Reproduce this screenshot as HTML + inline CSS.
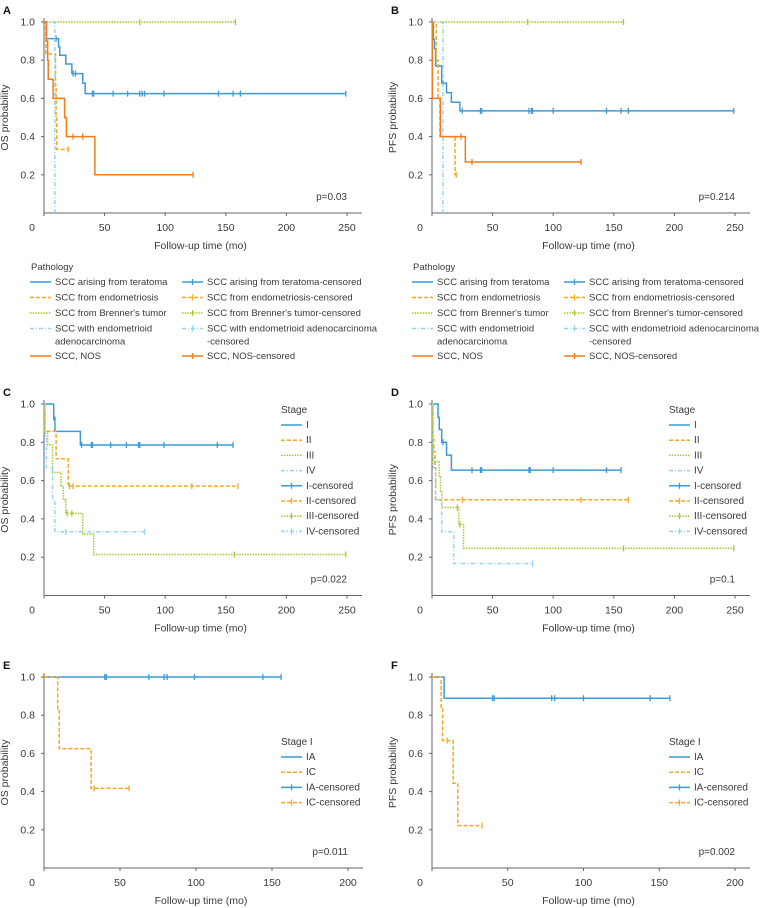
<!DOCTYPE html>
<html><head><meta charset="utf-8"><style>
html,body{margin:0;padding:0;background:#fff;}
svg{display:block;font-family:"Liberation Sans",sans-serif;}
</style></head><body>
<svg id="fig" width="764" height="908" viewBox="0 0 764 908" xmlns="http://www.w3.org/2000/svg"></svg>
<script>
// ---- Panel A (OS by pathology) ----
const aTerT=[2,12,13,18,23,32,34], aTerS=[0.913,0.87,0.826,0.78,0.73,0.68,0.625], aTerC=[10,24,26,40,41,57,69,79,81,83,99,144,156,162,249];
const aEndT=[1.5,9.5,10,10.5], aEndS=[0.833,0.667,0.5,0.333], aEndC=[20];
const aBreT=[], aBreS=[], aBreC=[79,158];
const aAdeT=[9], aAdeS=[0], aAdeC=[];
const aNosT=[2,3,3.5,7.5,17,18.5,42], aNosS=[0.9,0.8,0.7,0.6,0.5,0.4,0.2], aNosC=[24,32,123];
// ---- Panel B (PFS by pathology) ----
const bTerT=[1,2,3,8,12,16,23], bTerS=[0.91,0.86,0.77,0.68,0.63,0.58,0.535], bTerC=[9,25,40,41,80,82,83,100,144,156,162,249];
const bEndT=[3.5,5,6.5,19], bEndS=[0.8,0.6,0.4,0.2], bEndC=[20];
const bBreT=[], bBreS=[], bBreC=[79,158];
const bAdeT=[9], bAdeS=[0], bAdeC=[];
const bNosT=[0.3,7,27.5], bNosS=[0.6,0.4,0.267], bNosC=[24,33,123];
// ---- Panel C (OS by stage) ----
const cIT=[8,9,30], cIS=[0.93,0.857,0.786], cIC=[8,31,39,40,55,68,78,79,99,143,156];
const cIIT=[0.5,10,20], cIIS=[0.857,0.714,0.571], cIIC=[21,24,122,160];
const cIIIT=[0.5,3,7,14,16,18,32,41], cIIIS=[0.857,0.786,0.643,0.571,0.5,0.429,0.321,0.214], cIIIC=[19,23,157,249];
const cIVT=[1,2,7,9], cIVS=[0.833,0.667,0.5,0.333], cIVC=[18,83];
// ---- Panel D (PFS by stage) ----
const dIT=[5,6,8,12,16], dIS=[0.93,0.867,0.8,0.733,0.655], dIC=[9,33,40,41,80,81,100,144,156];
const dIIT=[0.5,1.5,2.5,3], dIIS=[0.833,0.75,0.667,0.5], dIIC=[25,123,162];
const dIIIT=[0.5,6,7,8,22,26], dIIIS=[0.7,0.62,0.54,0.46,0.37,0.246], dIIIC=[21,23,158,249];
const dIVT=[1,3,8,18], dIVS=[0.667,0.5,0.333,0.167], dIVC=[83];
// ---- Panel E (OS stage I) ----
const eIAT=[], eIAS=[], eIAC=[40,41,69,79,81,99,144,156];
const eICT=[9,10,31], eICS=[0.833,0.625,0.417], eICC=[33,56];
// ---- Panel F (PFS stage I) ----
const fIAT=[8], fIAS=[0.889], fIAC=[40,41,79,81,100,144,157];
const fICT=[6,7,14,17], fICS=[0.833,0.667,0.444,0.222], fICC=[10,33];
const xTicks250=[0,50,100,150,200,250], xTicks200=[0,50,100,150,200], yTicks=[0.2,0.4,0.6,0.8,1.0];

const NS="http://www.w3.org/2000/svg", svg=document.getElementById('fig');
const COL={blue:"#3d9ad6",gold:"#f6a822",green:"#a3c92f",lblue:"#94d3f2",orange:"#f07d19"};
const DASH={solid:"",dash:"4,2",dot:"1.5,1.2",dashdot:"4,2,1,2"};
function el(tag,attrs,parent){const e=document.createElementNS(NS,tag);for(const k in attrs)e.setAttribute(k,attrs[k]);(parent||svg).appendChild(e);return e;}
function txt(s,x,y,attrs,parent){const t=el('text',Object.assign({x:x,y:y,'font-size':10.5,fill:'#3a3a3a'},attrs),parent);t.textContent=s;return t;}

function panel(p){
  const g=el('g',{});
  
  
  const sx=v=>p.x0+v*(p.x1-p.x0)/p.xmax, sy=v=>p.y0-v*(p.y0-p.y1);
  const lt=txt(p.letter,p.x0-41,p.y1-8,{'font-size':11,'font-weight':'bold',fill:'#111'},g);
  
  const ax=el('g',{},g);
  
  el('line',{x1:p.x0,y1:p.y1-4,x2:p.x0,y2:p.y0,stroke:'#666','stroke-width':1},ax);
  el('line',{x1:p.x0,y1:p.y0,x2:p.x1+15,y2:p.y0,stroke:'#666','stroke-width':1},ax);
  p.xticks.forEach(v=>{el('line',{x1:sx(v),y1:p.y0,x2:sx(v),y2:p.y0+3,stroke:'#666'},ax);
    const t=txt(String(v),v===0?sx(v)-12:sx(v),p.y0+18,{'text-anchor':'middle'},ax);
    });
  yTicks.forEach(v=>{el('line',{x1:p.x0-3,y1:sy(v),x2:p.x0,y2:sy(v),stroke:'#666'},ax);
    const t=txt(v.toFixed(1),p.x0-9,sy(v)+3.5,{'text-anchor':'end'},ax);
    });
  const xt=txt('Follow-up time (mo)',(p.x0+p.x1)/2+5,p.y0+36,{'text-anchor':'middle'},g);
  
  const yc=(p.y0+p.y1)/2;
  const yt=txt(p.ylab,p.x0-36,yc,{'text-anchor':'middle',transform:`rotate(-90 ${p.x0-36} ${yc})`},g);
  
  const pv=txt(p.pval,p.x1,p.y0-13,{'text-anchor':'end','font-size':10},g);
  
  p.series.forEach(s=>{
    const sg=el('g',{},g);
    
    const T=s.t,S=s.s,C=s.c;
    const last=Math.max(C.length?Math.max(...C):0,T.length?T[T.length-1]:0);
    let d=`M${sx(0)},${sy(1)}`;
    for(let i=0;i<T.length;i++){d+=` H${sx(T[i])} V${sy(S[i])}`;}
    d+=` H${sx(last)}`;
    el('path',{d:d,fill:'none',stroke:COL[s.col],'stroke-width':1.5,'stroke-dasharray':DASH[s.dash]},sg);
    C.forEach(c=>{let v=1;for(let i=0;i<T.length;i++)if(T[i]<=c)v=S[i];
      const m=el('line',{x1:sx(c),y1:sy(v)-3,x2:sx(c),y2:sy(v)+3,stroke:COL[s.col],'stroke-width':1.3},sg);
      });
  });
  if(p.legend){const L=p.legend;const lg=el('g',{},g);
    
    txt(L.title,L.x,L.y,{'font-size':10},lg);
    L.items.forEach((it,i)=>{const y=L.y+15+i*15.2;
      const eg=el('g',{},lg);
      el('line',{x1:L.x,y1:y-3,x2:L.x+21,y2:y-3,stroke:COL[it[1]],'stroke-width':1.5,'stroke-dasharray':DASH[it[2]]},eg);
      if(it[3])el('line',{x1:L.x+10.5,y1:y-6,x2:L.x+10.5,y2:y,stroke:COL[it[1]],'stroke-width':1.3},eg);
      txt(it[0],L.x+25,y,{'font-size':10},eg);});}
}
const stageLeg=[["I","blue","solid",0],["II","gold","dash",0],["III","green","dot",0],["IV","lblue","dashdot",0],["I-censored","blue","solid",1],["II-censored","gold","dash",1],["III-censored","green","dot",1],["IV-censored","lblue","dashdot",1]];
const s1Leg=[["IA","blue","solid",0],["IC","gold","dash",0],["IA-censored","blue","solid",1],["IC-censored","gold","dash",1]];
function path5(a){return [
 {name:'series-teratoma',t:a[0],s:a[1],c:a[2],col:'blue',dash:'solid'},
 {name:'series-endometriosis',t:a[3],s:a[4],c:a[5],col:'gold',dash:'dash'},
 {name:'series-brenner',t:a[6],s:a[7],c:a[8],col:'green',dash:'dot'},
 {name:'series-endometrioid',t:a[9],s:a[10],c:a[11],col:'lblue',dash:'dashdot'},
 {name:'series-nos',t:a[12],s:a[13],c:a[14],col:'orange',dash:'solid'}];}
function st4(a){return [
 {name:'series-stage-i',t:a[0],s:a[1],c:a[2],col:'blue',dash:'solid'},
 {name:'series-stage-ii',t:a[3],s:a[4],c:a[5],col:'gold',dash:'dash'},
 {name:'series-stage-iii',t:a[6],s:a[7],c:a[8],col:'green',dash:'dot'},
 {name:'series-stage-iv',t:a[9],s:a[10],c:a[11],col:'lblue',dash:'dashdot'}];}
panel({name:'panel-a',letter:'A',x0:44,x1:347,xmax:250,y0:213,y1:22,ylab:'OS probability',pval:'p=0.03',xticks:xTicks250,
 series:path5([aTerT,aTerS,aTerC,aEndT,aEndS,aEndC,aBreT,aBreS,aBreC,aAdeT,aAdeS,aAdeC,aNosT,aNosS,aNosC])});
panel({name:'panel-b',letter:'B',x0:432,x1:735,xmax:250,y0:213,y1:22,ylab:'PFS probability',pval:'p=0.214',xticks:xTicks250,
 series:path5([bTerT,bTerS,bTerC,bEndT,bEndS,bEndC,bBreT,bBreS,bBreC,bAdeT,bAdeS,bAdeC,bNosT,bNosS,bNosC])});
panel({name:'panel-c',letter:'C',x0:44,x1:347,xmax:250,y0:595.5,y1:404,ylab:'OS probability',pval:'p=0.022',xticks:xTicks250,
 series:st4([cIT,cIS,cIC,cIIT,cIIS,cIIC,cIIIT,cIIIS,cIIIC,cIVT,cIVS,cIVC]),legend:{title:'Stage',x:281,y:413,items:stageLeg}});
panel({name:'panel-d',letter:'D',x0:432,x1:735,xmax:250,y0:595.5,y1:404,ylab:'PFS probability',pval:'p=0.1',xticks:xTicks250,
 series:st4([dIT,dIS,dIC,dIIT,dIIS,dIIC,dIIIT,dIIIS,dIIIC,dIVT,dIVS,dIVC]),legend:{title:'Stage',x:669,y:413,items:stageLeg}});
panel({name:'panel-e',letter:'E',x0:44,x1:348,xmax:200,y0:868,y1:677,ylab:'OS probability',pval:'p=0.011',xticks:xTicks200,
 series:[{name:'series-ia',t:eIAT,s:eIAS,c:eIAC,col:'blue',dash:'solid'},{name:'series-ic',t:eICT,s:eICS,c:eICC,col:'gold',dash:'dash'}],
 legend:{title:'Stage I',x:281,y:745,items:s1Leg}});
panel({name:'panel-f',letter:'F',x0:432,x1:735,xmax:200,y0:868,y1:677,ylab:'PFS probability',pval:'p=0.002',xticks:xTicks200,
 series:[{name:'series-ia',t:fIAT,s:fIAS,c:fIAC,col:'blue',dash:'solid'},{name:'series-ic',t:fICT,s:fICS,c:fICC,col:'gold',dash:'dash'}],
 legend:{title:'Stage I',x:669,y:745,items:s1Leg}});
// pathology legends (A and B)
const pathL=[["SCC arising from teratoma","blue","solid",0],["SCC from endometriosis","gold","dash",0],["SCC from Brenner's tumor","green","dot",0],["SCC with endometrioid|adenocarcinoma","lblue","dashdot",0],["SCC, NOS","orange","solid",0]];
const pathR=[["SCC arising from teratoma-censored","blue","solid",1],["SCC from endometriosis-censored","gold","dash",1],["SCC from Brenner's tumor-censored","green","dot",1],["SCC with endometrioid adenocarcinoma|-censored","lblue","dashdot",1],["SCC, NOS-censored","orange","solid",1]];
const rowY=[285,300.5,316,331.5,359];
function pathLegend(x0,x1,nm){const lg=el('g',{});
  
  txt('Pathology',x0+1,270,{'font-size':9.5},lg);
  [[pathL,x0],[pathR,x1]].forEach(([items,x])=>items.forEach((it,i)=>{const y=rowY[i];
    const eg=el('g',{},lg);
    el('line',{x1:x,y1:y-3,x2:x+21,y2:y-3,stroke:COL[it[1]],'stroke-width':1.5,'stroke-dasharray':DASH[it[2]]},eg);
    if(it[3])el('line',{x1:x+10.5,y1:y-6,x2:x+10.5,y2:y,stroke:COL[it[1]],'stroke-width':1.3},eg);
    it[0].split('|').forEach((line,j)=>txt(line,x+25,y+j*13,{'font-size':9.5},eg));}));}
pathLegend(30,182,'legend-pathology-a');
pathLegend(412,564,'legend-pathology-b');
</script>
</body></html>
